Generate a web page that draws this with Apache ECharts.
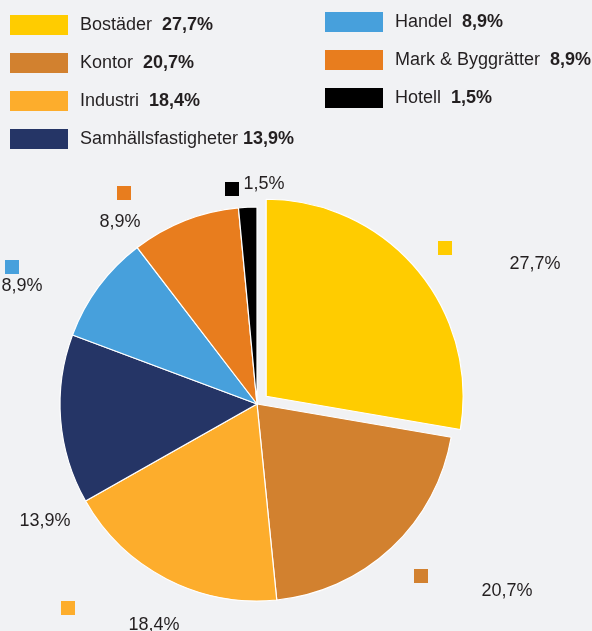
<!DOCTYPE html>
<html>
<head>
<meta charset="utf-8">
<script src="https://cdn.jsdelivr.net/npm/echarts@6/dist/echarts.min.js"></script>
<style>
  html, body { margin: 0; padding: 0; background: #f1f2f4; }
  #myChart { width: 592px; height: 631px; }
</style>
</head>
<body>
<div id="myChart"></div>
<script>
// data
var names = ['Bostäder', 'Kontor', 'Industri', 'Samhällsfastigheter', 'Handel', 'Mark & Byggrätter', 'Hotell']
var values = [27.7, 20.7, 18.4, 13.9, 8.9, 8.9, 1.5]
var colors = ['#ffcc00', '#d2812f', '#fdad2c', '#253566', '#47a0dc', '#e87d1e', '#000000']

// label placement (percent text, small colour squares)
var textPos = [[535, 264], [507, 591], [154, 625], [45, 521], [22, 286], [120, 222], [264, 184]]
var squarePos = [[445, 248], [421, 576], [68, 608], null, [12, 267], [124, 193], [232, 189]]

function pct(v) {
    return v.toFixed(1).replace('.', ',') + '%'
}

function _initChart() {
    var myChart = echarts.init(document.getElementById('myChart'))
    var font = '"Liberation Sans", Arial, sans-serif'

    var legendFmt = function (name) {
        var i = names.indexOf(name)
        return '{n|' + name + '}' + (i === 3 ? ' ' : '  ') + '{b|' + pct(values[i]) + '}'
    }
    var legendText = {
        fontFamily: font,
        fontSize: 18,
        color: '#231f20',
        rich: {
            n: { fontFamily: font, fontSize: 18, color: '#231f20', padding: [0, 0, 0, 7] },
            b: { fontFamily: font, fontSize: 18, fontWeight: 'bold', color: '#231f20' }
        }
    }

    var pieData = names.map(function (n, i) {
        return {
            name: n,
            value: values[i],
            selected: i === 0,
            itemStyle: { color: colors[i] }
        }
    })
    var textData = names.map(function (n, i) {
        return {
            name: n,
            value: values[i],
            itemStyle: { color: 'rgba(0,0,0,0)', borderWidth: 0 }
        }
    })
    var squareData = names.map(function (n, i) {
        return {
            name: n,
            value: values[i],
            itemStyle: { color: 'rgba(0,0,0,0)', borderWidth: 0 },
            label: {
                show: squarePos[i] !== null,
                formatter: '',
                width: 14,
                height: 14,
                backgroundColor: colors[i]
            }
        }
    })

    var legendBase = {
        orient: 'vertical',
        itemWidth: 58,
        itemHeight: 20,
        itemGap: 18,
        icon: 'rect',
        selectedMode: false,
        itemStyle: { borderWidth: 0 },
        formatter: legendFmt,
        textStyle: legendText
    }

    var overlay = {
        type: 'pie',
        center: [257, 404],
        radius: 197,
        startAngle: 90,
        silent: true,
        avoidLabelOverlap: false,
        labelLine: { show: false },
        emphasis: { disabled: true }
    }

    var option = {
        backgroundColor: '#f1f2f4',
        animation: false,
        legend: [
            Object.assign({}, legendBase, {
                left: 5, top: 10,
                data: names.slice(0, 4)
            }),
            Object.assign({}, legendBase, {
                left: 320, top: 7,
                data: names.slice(4)
            })
        ],
        series: [
            {
                name: 'Fördelning',
                type: 'pie',
                center: [257, 404],
                radius: 197,
                startAngle: 90,
                selectedMode: 'single',
                selectedOffset: 12,
                itemStyle: { borderColor: '#ffffff', borderWidth: 1.2 },
                label: { show: false },
                labelLine: { show: false },
                emphasis: { disabled: true },
                data: pieData
            },
            Object.assign({}, overlay, {
                name: 'Procent',
                label: {
                    position: 'outside',
                    fontFamily: font,
                    fontSize: 18,
                    color: '#231f20',
                    formatter: function (p) { return pct(p.value) }
                },
                labelLayout: function (p) {
                    var pos = textPos[p.dataIndex]
                    return { x: pos[0], y: pos[1], align: 'center', verticalAlign: 'middle' }
                },
                data: textData
            }),
            Object.assign({}, overlay, {
                name: 'Markörer',
                label: { position: 'outside' },
                labelLayout: function (p) {
                    var pos = squarePos[p.dataIndex] || [0, 0]
                    return { x: pos[0], y: pos[1], align: 'center', verticalAlign: 'middle' }
                },
                data: squareData
            })
        ]
    }
    myChart.setOption(option)
    window.addEventListener('resize', function () {
        myChart.resize()
    })
}

_initChart()
</script>
</body>
</html>
